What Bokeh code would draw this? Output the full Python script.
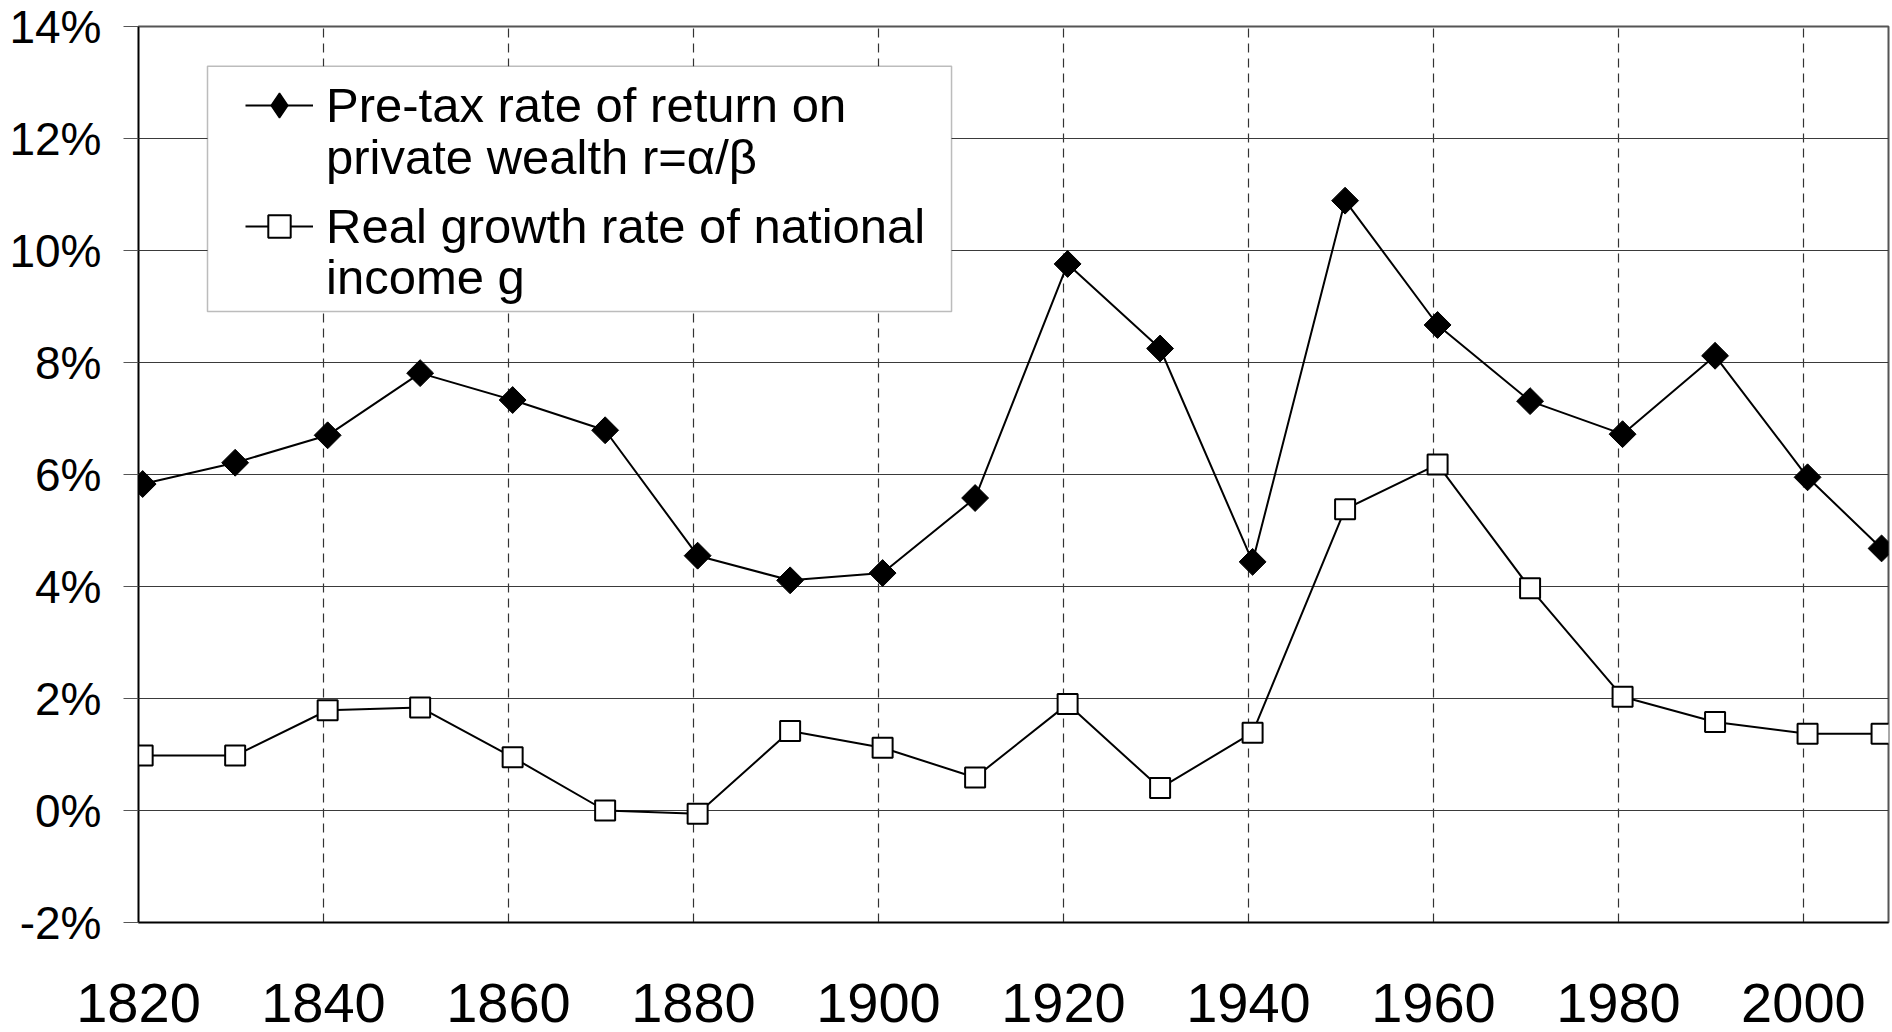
import numpy as np
from bokeh.plotting import figure
from bokeh.models import (ColumnDataSource, Range1d, FixedTicker, PrintfTickFormatter,
                          Legend, LegendItem, BoxAnnotation)
from bokeh.transform import dodge
from bokeh.embed import file_html
from bokeh.resources import INLINE

# ---- data ----
years = [1820, 1830, 1840, 1850, 1860, 1870, 1880, 1890, 1900, 1910,
         1920, 1930, 1940, 1950, 1960, 1970, 1980, 1990, 2000, 2008]
r_return = [5.83, 6.21, 6.70, 7.81, 7.33, 6.79, 4.55, 4.11, 4.24, 5.58,
            9.76, 8.25, 4.44, 10.89, 8.67, 7.31, 6.72, 8.12, 5.95, 4.68]
g_growth = [0.98, 0.98, 1.79, 1.84, 0.95, 0.00, -0.06, 1.42, 1.12, 0.59,
            1.90, 0.40, 1.39, 5.38, 6.18, 3.97, 2.03, 1.58, 1.37, 1.37]
x_ticks = [1820, 1840, 1860, 1880, 1900, 1920, 1940, 1960, 1980, 2000]
y_ticks = [-2, 0, 2, 4, 6, 8, 10, 12, 14]
label_r = ["Pre-tax rate of return on", "private wealth r=\u03b1/\u03b2"]
label_g = ["Real growth rate of national", "income g"]

FONT = "Liberation Sans"

src = ColumnDataSource(dict(x=years, r=r_return, g=g_growth))
# legend-only sample (not plotted: NaN position)
legend_src = ColumnDataSource(dict(x=[np.nan], y=[np.nan]))

p = figure(width=1892, height=1032, output_backend="svg", toolbar_location=None,
           x_range=Range1d(1820, 2009.2), y_range=Range1d(-2, 14),
           min_border_left=138, min_border_right=4, min_border_top=26,
           min_border_bottom=110)
p.background_fill_color = "white"
p.border_fill_color = "white"
p.outline_line_color = "#555555"
p.outline_line_width = 2

# axes
p.xaxis.ticker = FixedTicker(ticks=x_ticks)
p.yaxis.ticker = FixedTicker(ticks=y_ticks)
p.yaxis.formatter = PrintfTickFormatter(format="%d%%")
for ax in (p.xaxis, p.yaxis):
    ax.axis_line_color = "black"
    ax.axis_line_width = 1.5
    ax.major_label_text_font = FONT
    ax.major_label_text_color = "black"
    ax.minor_tick_line_color = None
    ax.major_tick_in = 0
p.xaxis.major_label_text_font_size = "56px"
p.xaxis.major_tick_out = 0
p.xaxis.major_label_standoff = 61
p.yaxis.major_label_text_font_size = "46px"
p.yaxis.major_tick_out = 15
p.yaxis.major_tick_line_color = "#555555"
p.yaxis.major_label_standoff = 22

# grids
p.ygrid.ticker = FixedTicker(ticks=y_ticks)
p.ygrid.grid_line_color = "#3a3a3a"
p.ygrid.grid_line_width = 1.2
p.xgrid.ticker = FixedTicker(ticks=x_ticks[1:])
p.xgrid.grid_line_color = "#333333"
p.xgrid.grid_line_width = 1.2
p.xgrid.grid_line_dash = "9 6"

xs = dodge("x", 0.45, range=p.x_range)

lr = p.line(x=xs, y="r", source=src, line_color="black", line_width=2)
sr = p.scatter(x=xs, y="r", source=src, marker="square", size=19,
               angle=np.pi / 4, fill_color="black", line_color="black", line_width=1)
lg = p.line(x=xs, y="g", source=src, line_color="black", line_width=2)
sg = p.scatter(x=xs, y="g", source=src, marker="square", size=20,
               fill_color="white", line_color="black", line_width=2)
# diamond sample for the legend (legend glyphs ignore marker angle)
leg_diamond = p.scatter(x="x", y="y", source=legend_src, marker="diamond", size=10,
                        fill_color="black", line_color="black", line_width=1.5)

# legend frame
box = BoxAnnotation(left=1827.46, right=1907.9, top=13.29, bottom=8.91,
                    fill_color="white", fill_alpha=1.0,
                    line_color="#222222", line_width=1.5, level="annotation")
p.add_layout(box)

common = dict(padding=0, margin=0, spacing=0,
              glyph_width=68, label_standoff=13,
              label_text_font=FONT, label_text_font_size="49px",
              label_text_color="black",
              border_line_alpha=0, background_fill_alpha=0)

legends = [
    Legend(items=[LegendItem(label=label_r[0], renderers=[lr, leg_diamond])],
           location=(107, 786), glyph_height=62, **common),
    Legend(items=[LegendItem(label=label_r[1], renderers=[])],
           location=(107, 737), glyph_height=20, **common),
    Legend(items=[LegendItem(label=label_g[0], renderers=[lg, sg])],
           location=(107, 668), glyph_height=56, **common),
    Legend(items=[LegendItem(label=label_g[1], renderers=[])],
           location=(107, 617), glyph_height=20, **common),
]
for leg in legends:
    p.add_layout(leg, "center")

open("out.html", "w").write(file_html(p, INLINE))
